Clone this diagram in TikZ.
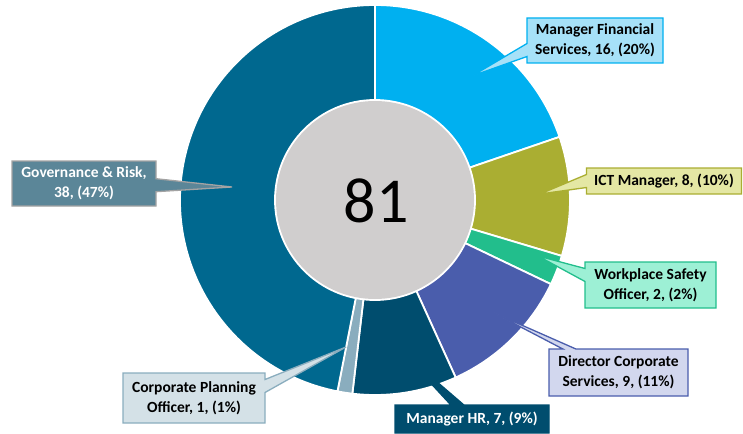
\documentclass[tikz,border=0pt]{standalone}
\usepackage{fontspec}
\setmainfont{Carlito}
\usetikzlibrary{shapes.callouts}
\definecolor{cMFS}{HTML}{00B0F0}
\definecolor{lMFS}{HTML}{A6E1F8}
\definecolor{cICT}{HTML}{AAAE32}
\definecolor{lICT}{HTML}{E4E7A4}
\definecolor{cWSO}{HTML}{22BE8C}
\definecolor{lWSO}{HTML}{9DF0D5}
\definecolor{cDCS}{HTML}{4A5DAC}
\definecolor{lDCS}{HTML}{D2D7EE}
\definecolor{cMHR}{HTML}{004D6E}
\definecolor{cCPO}{HTML}{8AADBE}
\definecolor{lCPO}{HTML}{D4E1E7}
\definecolor{cGR}{HTML}{00688F}
\definecolor{lGR}{HTML}{5B8698}
\definecolor{bGR}{HTML}{A3A3A3}
\definecolor{cInner}{HTML}{D0CECE}
\newcommand\donutslice[3]{%
  \fill[#1,draw=white,line width=1.8pt] ([shift={(#2:195)}]O) arc[start angle=#2,end angle=#3,radius=195]
    -- ([shift={(#3:100)}]O) arc[start angle=#3,end angle=#2,radius=100] -- cycle;}
\begin{document}
\begin{tikzpicture}[x=1pt,y=1pt,
  lbl/.style={rectangle callout, draw, line width=1.3pt, font=\bfseries\fontsize{15.5}{20}\selectfont,
    align=center, inner sep=1pt, callout pointer width=13pt}]
\useasboundingbox (0,0) rectangle (743,-433);
\coordinate (O) at (375,-200);
\donutslice{cMFS}{90}{18.89}
\donutslice{cICT}{18.89}{-16.67}
\donutslice{cWSO}{-16.67}{-25.56}
\donutslice{cDCS}{-25.56}{-65.56}
\donutslice{cMHR}{-65.56}{-96.67}
\donutslice{cCPO}{-96.67}{-101.11}
\donutslice{cGR}{-101.11}{-270}
\fill[cInner] (O) circle (99);
\node[font=\fontsize{64}{64}\selectfont] (total) at (376,-201) {81};
\coordinate (pMFS) at (472,-76);
\coordinate (pICT) at (540,-194);
\coordinate (pWSO) at (538,-256);
\coordinate (pDCS) at (492,-312);
\coordinate (pMHR) at (400,-350);
\coordinate (pCPO) at (346,-347);
\coordinate (pGR) at (232,-187);
\node[lbl, draw=cMFS, fill=lMFS, minimum width=136, minimum height=45, callout absolute pointer={(pMFS)}] (lmfs) at (595,-40.5) {Manager Financial\\Services, 16, (20\%)};
\node[lbl, draw=cICT, fill=lICT, minimum width=155, minimum height=26, callout absolute pointer={(pICT)}] (lict) at (664,-181) {ICT Manager, 8, (10\%)};
\node[lbl, draw=cWSO, fill=lWSO, minimum width=131, minimum height=46, callout absolute pointer={(pWSO)}] (lwso) at (650.5,-285) {Workplace Safety\\Officer, 2, (2\%)};
\node[lbl, draw=cDCS, fill=lDCS, minimum width=139, minimum height=47, callout absolute pointer={(pDCS)}] (ldcs) at (618.5,-372.5) {Director Corporate\\Services, 9, (11\%)};
\node[lbl, draw=cMHR, fill=cMHR, text=white, minimum width=154, minimum height=28, callout absolute pointer={(pMHR)}] (lmhr) at (472,-419) {Manager HR, 7, (9\%)};
\node[lbl, draw=cCPO, fill=lCPO, minimum width=142, minimum height=50, callout absolute pointer={(pCPO)}] (lcpo) at (194,-398) {Corporate Planning\\Officer, 1, (1\%)};
\node[lbl, draw=bGR, fill=lGR, text=white, minimum width=144, minimum height=45, callout absolute pointer={(pGR)}] (lgr) at (84,-183.5) {Governance \& Risk,\\38, (47\%)};
\end{tikzpicture}
\end{document}
